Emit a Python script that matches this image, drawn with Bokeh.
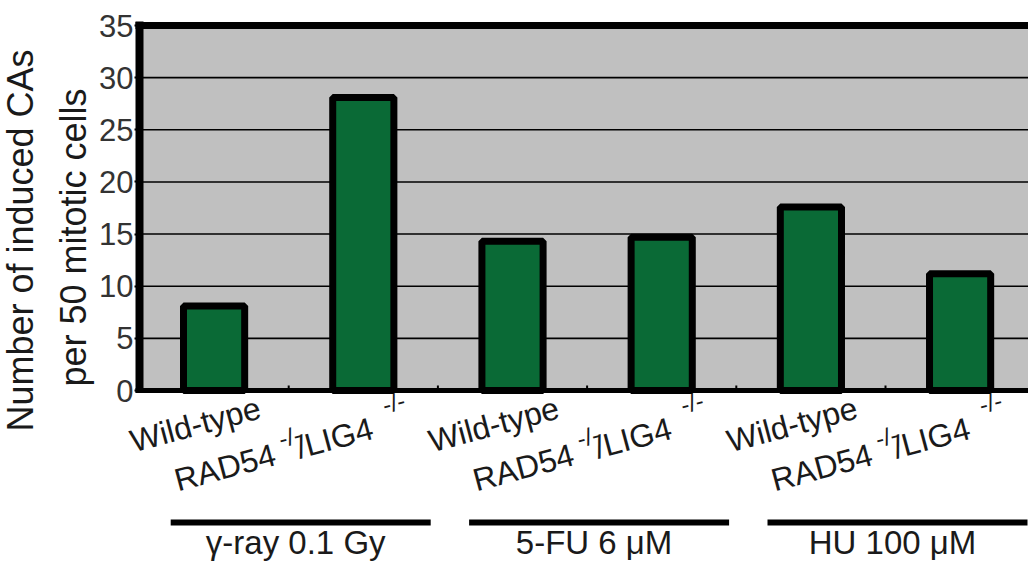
import math
from bokeh.plotting import figure
from bokeh.models import Range1d, FixedTicker, Label, ColumnDataSource
from bokeh.embed import file_html
from bokeh.resources import INLINE

# ---- data ----
conditions = ["Wild-type", "RAD54-/-/LIG4-/-", "Wild-type", "RAD54-/-/LIG4-/-", "Wild-type", "RAD54-/-/LIG4-/-"]
treatments = ["γ-ray 0.1 Gy", "5-FU 6 μM", "HU 100 μM"]
induced_cas = [8.1, 28.1, 14.3, 14.7, 17.6, 11.2]
y_ticks = [0, 5, 10, 15, 20, 25, 30, 35]

# ---- geometry (canvas pixels) ----
W, H = 1028, 568
LEFT = 139          # x of the y axis
ZERO_Y = 390        # y of value 0
TOP_Y = 25          # y of value 35
slot = 149.2        # px per category
y_max = 35
FONT = "Liberation Sans"
TXT = "#1a1a1a"
BASE_FIX = 0.38     # baseline correction (fraction of font size)
px_per_unit = (ZERO_Y - TOP_Y) / y_max


def px_x(sx):
    return (sx - LEFT) / slot


def px_y(sy):
    return (ZERO_Y - sy) / px_per_unit


x_end = px_x(W)

p = figure(width=W, height=H,
           x_range=Range1d(px_x(0), x_end), y_range=Range1d(px_y(H), px_y(0)),
           output_backend="svg", toolbar_location=None, x_axis_location=None,
           min_border=0, min_border_left=0, min_border_right=0,
           min_border_top=0, min_border_bottom=0)
p.background_fill_color = "white"
p.border_fill_color = "white"
p.outline_line_color = None
p.grid.visible = False

# plot area background and grid lines
p.quad(left=[0], right=[x_end], bottom=[0], top=[y_max], fill_color="#c0c0c0",
       line_color=None, level="image")
p.segment(x0=[0] * len(y_ticks), x1=[x_end] * len(y_ticks), y0=y_ticks, y1=y_ticks,
          line_color="black", line_width=1.6, level="underlay")

# bars
xs = [i + 0.5 for i in range(len(induced_cas))]
src = ColumnDataSource(dict(x=xs, top=induced_cas, cond=conditions))
p.vbar(x="x", top="top", bottom=0, width=0.41, source=src,
       fill_color="#0a6a36", line_color="black", line_width=7)

# frame borders: top and bottom
p.segment(x0=[px_x(135)] * 2, x1=[x_end] * 2, y0=[y_max, 0], y1=[y_max, 0],
          line_color="black", line_width=[7, 5])
# small tick marks at category boundaries
bnd = [1, 2, 3, 4, 5]
p.segment(x0=bnd, x1=bnd, y0=[0] * 5, y1=[px_y(385)] * 5, line_color="black", line_width=2)

# y axis placed at x = 0 (the plot area's left edge)
yax = p.yaxis[0]
yax.fixed_location = 0
yax.bounds = (px_y(392), px_y(21))
yax.ticker = FixedTicker(ticks=y_ticks)
yax.axis_line_width = 8
yax.axis_line_color = "black"
yax.major_tick_out = 5
yax.major_tick_in = 0
yax.major_tick_line_width = 2
yax.minor_tick_line_color = None
yax.major_label_standoff = 1
yax.major_label_text_font = FONT
yax.major_label_text_font_size = "31px"
yax.major_label_text_color = "#333333"


def add_text(sx, sy, text, size, angle=0.0, align="left"):
    # (sx, sy) is the wanted baseline point; shift along the text's "up" direction
    sx -= math.sin(angle) * BASE_FIX * size
    sy -= math.cos(angle) * BASE_FIX * size
    p.add_layout(Label(x=px_x(sx), y=px_y(sy), text=text, angle=angle, text_align=align,
                       text_baseline="alphabetic", text_font=FONT,
                       text_font_size=f"{size}px", text_color=TXT))


def bar_center(i):
    return LEFT + (i + 0.5) * slot


# y title
add_text(34, 240, "Number of induced CAs", 36, angle=math.pi / 2, align="center")
add_text(87, 237, "per 50 mitotic cells", 36, angle=math.pi / 2, align="center")

# rotated category labels
th = math.radians(15)
d = (math.cos(th), -math.sin(th))
up = (-math.sin(th), -math.cos(th))
for i, cond in enumerate(conditions):
    if cond == "Wild-type":
        add_text(bar_center(i) - 80, 453, "Wild-type", 32, angle=th)
    else:
        ax, ay = bar_center(i) - 185, 492
        pieces = [("RAD54", 0, 0, 32), ("-/-", 111, 16, 24), ("/LIG4", 126, 0, 32), ("-/-", 220, 22, 24)]
        for t, dist, lift, fs in pieces:
            sx = ax + dist * d[0] + lift * up[0]
            sy = ay + dist * d[1] + lift * up[1]
            add_text(sx, sy, t, fs, angle=th)

# treatment groups: underline + label
seg = dict(x0=[], x1=[], y=[])
for g, name in enumerate(treatments):
    cx = (bar_center(2 * g) + bar_center(2 * g + 1)) / 2
    seg["x0"].append(px_x(cx - 118))
    seg["x1"].append(px_x(cx + 142))
    seg["y"].append(px_y(522))
    add_text(cx + 7, 555, name, 33, align="center")
p.segment(x0="x0", y0="y", x1="x1", y1="y", source=ColumnDataSource(seg),
          line_color="black", line_width=6)

open("out.html", "w").write(file_html(p, INLINE))
